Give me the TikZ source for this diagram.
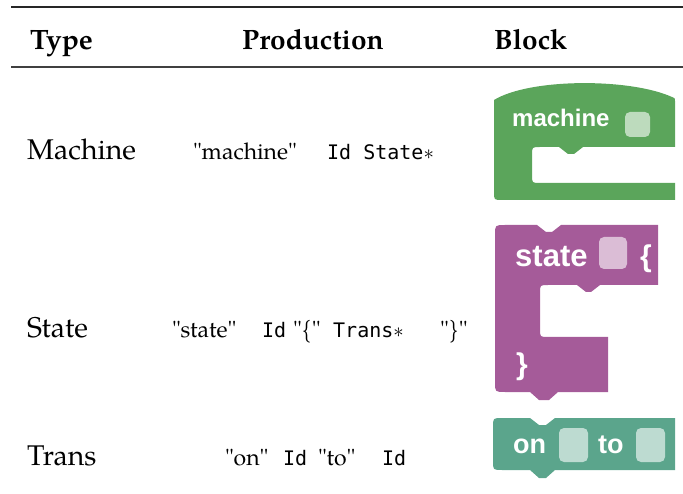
\documentclass[tikz,border=0pt]{standalone}
\usepackage{fontspec}
\setmainfont{texgyrepagella}[Extension=.otf,UprightFont=*-regular,BoldFont=*-bold]
\newfontfamily\codefont{DejaVu Sans Mono}
\newfontfamily\blockfont{Liberation Sans}
\newcommand\quoted[1]{\textquotedbl#1\textquotedbl}
\definecolor{machinegreen}{HTML}{5BA55B}
\definecolor{statepurple}{HTML}{A55B99}
\definecolor{transteal}{HTML}{5BA58C}
\tikzset{
  cell/.style={anchor=base west,inner sep=0pt},
  headcell/.style={cell,font=\fontsize{28}{32}\selectfont\bfseries},
  typecell/.style={cell,font=\fontsize{28.5}{32}\selectfont},
  prodcell/.style={cell,font=\fontsize{23}{28}\selectfont},
  codecell/.style={cell,font=\fontsize{20}{24}\selectfont\codefont},
  blocklabel/.style={cell,text=white,font=\blockfont\bfseries},
  slot/.style={fill=white,fill opacity=0.6,rounded corners=5pt},
}

\begin{document}
\begin{tikzpicture}[x=1pt,y=-1pt]
\useasboundingbox (0,0) rectangle (683,494);

%draw rules
    \draw[line width=2.4pt,black!85] (11,7) -- (683,7);
    \draw[line width=1.8pt,black!75] (11,67) -- (683,67);

%draw header
    \node[headcell] (hType) at (30,50) {Type};
    \node[headcell] (hProd) at (242,50) {Production};
    \node[headcell] (hBlock) at (494,50) {Block};

%draw type column
    \node[typecell] (tMachine) at (27,160) {Machine};
    \node[typecell] (tState) at (27,338) {State};
    \node[typecell] (tTrans) at (27,465) {Trans};

%draw productions
    \node[prodcell] (pMachineKw) at (193,160) {\quoted{machine}};
    \node[codecell] (pMachineRest) at (327,160) {Id State$\ast$};

    \node[prodcell] (pStateKw) at (172,338) {\quoted{state}};
    \node[codecell] (pStateId) at (262,338) {Id};
    \node[prodcell] (pStateOpen) at (293,338) {\quoted{\{}};
    \node[codecell] (pStateTrans) at (333,338) {Trans$\ast$};
    \node[prodcell] (pStateClose) at (440,338) {\quoted{\}}};

    \node[prodcell] (pTransOn) at (225,465) {\quoted{on}};
    \node[codecell] (pTransId) at (283,465) {Id};
    \node[prodcell] (pTransTo) at (318,465) {\quoted{to}};
    \node[codecell] (pTransTarget) at (382,465) {Id};

%draw machine block
    \fill[machinegreen] (494,192) -- (494,100) .. controls (530,78) and (630,78) .. (672,97)
        .. controls (675,98) .. (675,101) -- (675,147) -- (583,147) -- (574,154) -- (568,154)
        -- (559,147) -- (540,147) .. controls (532,147) .. (532,155) -- (532,175)
        .. controls (532,183) .. (540,183) -- (675,183) -- (675,200) -- (502,200)
        .. controls (494,200) .. (494,192) -- cycle;
    \fill[slot] (625,112) rectangle (650,137);
    \node[blocklabel,font=\fontsize{24}{28}\selectfont\blockfont\bfseries] (bMachine) at (512,127) {machine};

%draw state block
    \fill[statepurple] (495,382) -- (495,235) .. controls (495,225) .. (505,225) -- (537,225)
        -- (546,232) -- (552,232) -- (561,225) -- (658,225) -- (658,285) -- (600,285)
        -- (591,292) -- (586,292) -- (577,285) -- (548,285) .. controls (540,285) .. (540,293)
        -- (540,329) .. controls (540,337) .. (548,337) -- (608,337) -- (608,392) -- (558,392)
        -- (549,400) -- (539,400) -- (530,392) -- (505,392) .. controls (495,392) .. (495,382) -- cycle;
    \fill[slot] (599,237) rectangle (627,269);
    \node[blocklabel,font=\fontsize{31}{35}\selectfont\blockfont\bfseries] (bState) at (515,267) {state};
    \node[blocklabel,font=\fontsize{30}{34}\selectfont\blockfont\bfseries] (bOpen) at (640,267) {\{};
    \node[blocklabel,font=\fontsize{30}{34}\selectfont\blockfont\bfseries] (bClose) at (516,374) {\}};

%draw trans block
    \fill[transteal] (493,461) -- (493,427) .. controls (493,418) .. (502,418) -- (530,418)
        -- (539,425) -- (546,425) -- (555,418) -- (675,418) -- (675,470) -- (555,470)
        -- (546,478) -- (539,478) -- (530,470) -- (502,470) .. controls (493,470) .. (493,461) -- cycle;
    \foreach \x in {559,636}
    \fill[slot] (\x,428) rectangle ++(29,34);
    \node[blocklabel,font=\fontsize{27}{31}\selectfont\blockfont\bfseries] (bOn) at (513,453) {on};
    \node[blocklabel,font=\fontsize{27}{31}\selectfont\blockfont\bfseries] (bTo) at (598,453) {to};

\end{tikzpicture}
\end{document}
